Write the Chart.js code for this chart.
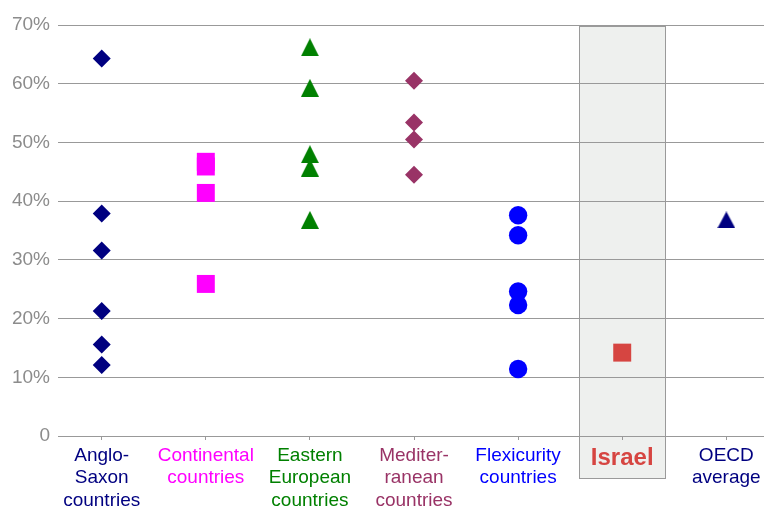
<!DOCTYPE html>
<html>
<head>
<meta charset="utf-8">
<script src="https://cdn.jsdelivr.net/npm/chart.js@4"></script>
<style>
html,body{margin:0;padding:0;background:#fff;}
#wrap{width:764px;height:508px;}
</style>
</head>
<body>
<div id="wrap"><canvas id="c" width="764" height="508"></canvas></div>
<script>
// ---- data ----
const categories = [
  ['Anglo-', 'Saxon', 'countries'],
  ['Continental', 'countries'],
  ['Eastern', 'European', 'countries'],
  ['Mediter-', 'ranean', 'countries'],
  ['Flexicurity', 'countries'],
  ['Israel'],
  ['OECD', 'average']
];
const categoryColors = ['#000080', '#ff00ff', '#008000', '#993366', '#0000ff', '#d64541', '#000080'];
const angloSaxon    = [64.3, 37.9, 31.6, 21.3, 15.6, 12.1];
const continental   = [46.7, 45.9, 41.4, 25.9];
const eastern       = [66.2, 59.3, 48.0, 45.7, 36.8];
const mediterranean = [60.5, 53.4, 50.5, 44.5];
const flexicurity   = [37.6, 34.2, 24.6, 22.3, 11.4];
const israel        = [14.2];
const oecd          = [36.8];
const yTicks = [0, 10, 20, 30, 40, 50, 60, 70];

const FONT = "'Liberation Sans', Arial, sans-serif";
const seriesList = [angloSaxon, continental, eastern, mediterranean, flexicurity, israel, oecd];

// triangle marker centred on its value (like the original's markers)
function triangleMarker(color, w, h) {
  const c = document.createElement('canvas');
  c.width = w; c.height = h;
  const g = c.getContext('2d');
  g.fillStyle = color;
  g.beginPath();
  g.moveTo(w / 2, 0);
  g.lineTo(w, h);
  g.lineTo(0, h);
  g.closePath();
  g.fill();
  return c;
}

const styles = [
  {pointStyle: 'rectRot', r: 9},
  {pointStyle: 'rect', r: 12.7},
  {pointStyle: triangleMarker('#008000', 18, 18), r: 9},
  {pointStyle: 'rectRot', r: 9},
  {pointStyle: 'circle', r: 9.2},
  {pointStyle: 'rect', r: 12.7},
  {pointStyle: triangleMarker('#000080', 18, 17), r: 9}
];

const datasets = seriesList.map((vals, i) => ({
  label: categories[i].join(' '),
  data: vals.map(v => ({x: i + 1, y: v})),
  pointStyle: styles[i].pointStyle,
  pointRadius: styles[i].r,
  pointHoverRadius: styles[i].r,
  backgroundColor: categoryColors[i],
  borderColor: categoryColors[i],
  pointBorderWidth: 0,
  showLine: false
}));

const israelIndex = 5;
const boxPlugin = {
  id: 'israelBox',
  beforeDraw(chart) {
    const {ctx, scales: {x, y}, chartArea} = chart;
    const pos = israelIndex + 1;
    const l = Math.round(x.getPixelForValue(pos - 0.413)) + 0.5;
    const r = Math.round(x.getPixelForValue(pos + 0.413)) + 0.5;
    const t = Math.round(y.getPixelForValue(70)) + 1.5;
    const b = Math.round(chartArea.bottom) + 42.5;
    ctx.save();
    ctx.fillStyle = '#eef0ee';
    ctx.fillRect(l, t, r - l, b - t);
    ctx.strokeStyle = '#9a9a9a';
    ctx.lineWidth = 1;
    ctx.strokeRect(l, t, r - l, b - t);
    ctx.restore();
  }
};

new Chart(document.getElementById('c'), {
  type: 'scatter',
  data: {datasets},
  plugins: [boxPlugin],
  options: {
    responsive: false,
    animation: false,
    layout: {autoPadding: false, padding: {top: 25, left: 0, right: 0, bottom: 0}},
    plugins: {legend: {display: false}, tooltip: {enabled: false}},
    scales: {
      x: {
        type: 'linear',
        min: 0.58,
        max: 7.362,
        afterFit: s => { s.height = 72; s.paddingLeft = 0; s.paddingRight = 0; },
        afterBuildTicks: s => { s.ticks = categories.map((c, i) => ({value: i + 1})); },
        grid: {drawOnChartArea: false, drawTicks: true, tickLength: 4, color: '#999'},
        border: {display: true, color: '#999'},
        ticks: {
          autoSkip: false,
          maxRotation: 0,
          padding: 4,
          callback: (v, i) => categories[i],
          color: ctx => categoryColors[ctx.index],
          font: ctx => ctx.index === israelIndex
            ? {family: FONT, size: 24, weight: 'bold', lineHeight: 1.175}
            : {family: FONT, size: 19, lineHeight: 1.2}
        }
      },
      y: {
        min: 0,
        max: 70,
        afterFit: s => { s.width = 58; },
        afterBuildTicks: s => { s.ticks = yTicks.map(v => ({value: v})); },
        grid: {color: '#999', drawTicks: false},
        border: {display: false},
        ticks: {
          padding: 8,
          color: '#8c8c8c',
          font: {family: FONT, size: 19},
          callback: v => v === 0 ? '0' : v + '%'
        }
      }
    }
  }
});
</script>
</body>
</html>
